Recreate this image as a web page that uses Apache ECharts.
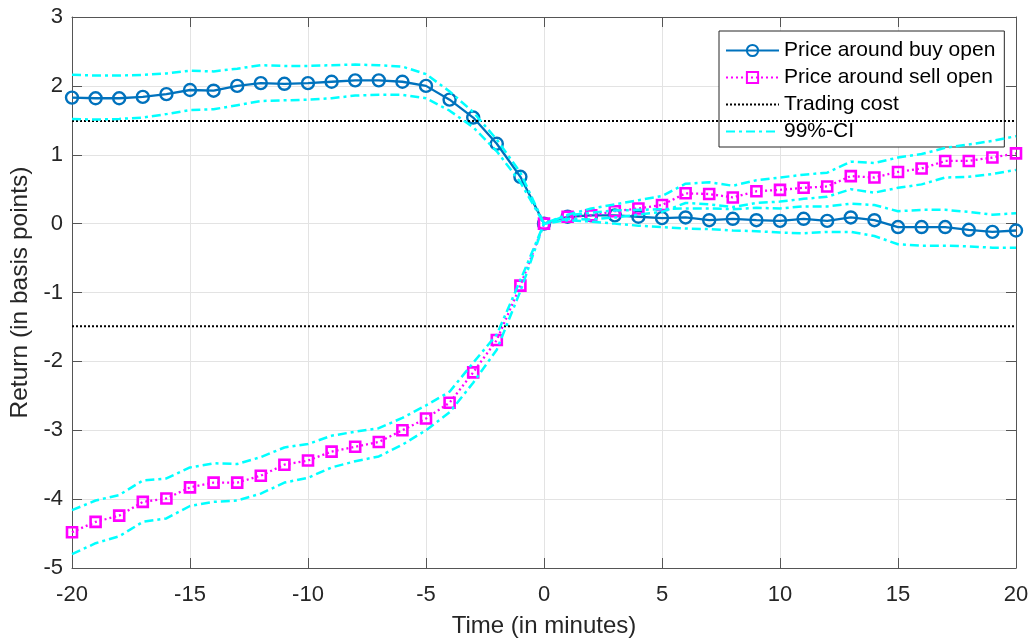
<!DOCTYPE html>
<html>
<head>
<meta charset="utf-8">
<script src="https://cdn.jsdelivr.net/npm/echarts@6/dist/echarts.min.js"></script>
<style>
html,body{margin:0;padding:0;background:#fff;}
#chart{width:1031px;height:639px;}
</style>
</head>
<body>
<div id="chart"></div>
<script>
const minutes = [-20,-19,-18,-17,-16,-15,-14,-13,-12,-11,-10,-9,-8,-7,-6,-5,-4,-3,-2,-1,0,1,2,3,4,5,6,7,8,9,10,11,12,13,14,15,16,17,18,19,20];

const buyOpen = [1.83,1.82,1.82,1.84,1.88,1.94,1.93,2.00,2.04,2.03,2.04,2.06,2.08,2.08,2.06,2.00,1.80,1.54,1.16,0.68,0,
  0.10,0.12,0.12,0.10,0.08,0.09,0.05,0.07,0.05,0.04,0.07,0.04,0.09,0.05,-0.05,-0.05,-0.05,-0.09,-0.12,-0.10];
const buyUpper = [2.16,2.15,2.15,2.16,2.18,2.22,2.21,2.25,2.30,2.29,2.29,2.30,2.31,2.30,2.28,2.17,1.92,1.62,1.22,0.74,0,
  0.12,0.16,0.19,0.20,0.21,0.22,0.22,0.21,0.23,0.22,0.25,0.25,0.29,0.27,0.18,0.20,0.20,0.17,0.13,0.15];
const buyLower = [1.52,1.51,1.52,1.54,1.59,1.65,1.66,1.72,1.78,1.79,1.80,1.82,1.86,1.87,1.87,1.82,1.64,1.40,1.05,0.60,0,
  0.05,0.03,0.00,-0.03,-0.05,-0.07,-0.08,-0.10,-0.11,-0.13,-0.14,-0.12,-0.12,-0.18,-0.30,-0.32,-0.32,-0.33,-0.35,-0.35];

const sellOpen = [-4.48,-4.33,-4.24,-4.04,-3.99,-3.83,-3.76,-3.76,-3.66,-3.50,-3.44,-3.31,-3.24,-3.17,-3.00,-2.83,-2.60,-2.16,-1.69,-0.90,0,
  0.10,0.12,0.18,0.22,0.27,0.44,0.43,0.38,0.47,0.49,0.52,0.54,0.69,0.67,0.75,0.80,0.91,0.91,0.96,1.02];
const sellUpper = [-4.16,-4.02,-3.94,-3.73,-3.70,-3.54,-3.48,-3.49,-3.39,-3.25,-3.20,-3.08,-3.02,-2.97,-2.82,-2.64,-2.44,-2.02,-1.61,-0.82,0,
  0.13,0.22,0.28,0.34,0.40,0.58,0.60,0.55,0.63,0.67,0.71,0.74,0.90,0.88,0.96,1.01,1.10,1.15,1.20,1.27];
const sellLower = [-4.80,-4.64,-4.54,-4.33,-4.28,-4.10,-4.04,-4.02,-3.92,-3.76,-3.69,-3.54,-3.45,-3.38,-3.21,-3.00,-2.74,-2.31,-1.83,-0.98,0,
  0.07,0.06,0.09,0.13,0.17,0.30,0.28,0.24,0.30,0.32,0.36,0.39,0.50,0.45,0.52,0.57,0.67,0.68,0.72,0.78];

const tradingCost = 1.49;
const costX = [-20, 20];

const xTicks = {min:-20, max:20, interval:5};
const yTicks = {min:-5, max:3, interval:1};

const pairs = arr => minutes.map((x,i)=>[x, arr[i]]);

const FONT = 'Liberation Sans, Arial, Helvetica, sans-serif';
const TXT = '#262626';
const AX = '#555555';
const CYAN = '#00FFFF';
const ciDash = [9,4,3,4];

const ciSeries = arr => ({
  name:'99%-CI', type:'line', data:pairs(arr), showSymbol:false, symbol:'none',
  lineStyle:{color:CYAN, width:2.5, type:ciDash}, itemStyle:{color:CYAN}, silent:true, z:5
});
const costSeries = v => ({
  name:'Trading cost', type:'line', data:costX.map(x=>[x,v]), showSymbol:false, symbol:'none',
  lineStyle:{color:'#000', width:2, type:[2,2]}, itemStyle:{color:'#000'}, silent:true, z:4
});

const axisCommon = {
  axisLine:{show:true, onZero:false, lineStyle:{color:AX, width:1}},
  axisTick:{show:true, inside:true, length:10, lineStyle:{color:AX, width:1}},
  splitLine:{show:false}
};

const option = {
  animation:false,
  backgroundColor:'#fff',
  textStyle:{fontFamily:FONT},
  grid:{left:72, right:15, top:17, bottom:71, containLabel:false, outerBoundsMode:'none'},
  xAxis:[
    Object.assign({}, axisCommon, {
      type:'value', position:'bottom', min:xTicks.min, max:xTicks.max, interval:xTicks.interval,
      name:'Time (in minutes)', nameLocation:'middle', nameGap:46,
      nameTextStyle:{fontFamily:FONT, fontSize:24, color:TXT},
      axisLabel:{fontFamily:FONT, fontSize:22, color:TXT, margin:16},
      splitLine:{show:true, lineStyle:{color:'#e3e3e3', width:1}}
    }),
    Object.assign({}, axisCommon, {
      type:'value', position:'top', min:xTicks.min, max:xTicks.max, interval:xTicks.interval,
      axisLabel:{show:false}
    })
  ],
  yAxis:[
    Object.assign({}, axisCommon, {
      type:'value', position:'left', min:yTicks.min, max:yTicks.max, interval:yTicks.interval,
      name:'Return (in basis points)', nameLocation:'middle', nameGap:38, nameRotate:90,
      nameTextStyle:{fontFamily:FONT, fontSize:24.5, color:TXT},
      axisLabel:{fontFamily:FONT, fontSize:22, color:TXT, margin:9},
      splitLine:{show:true, lineStyle:{color:'#e3e3e3', width:1}}
    }),
    Object.assign({}, axisCommon, {
      type:'value', position:'right', min:yTicks.min, max:yTicks.max, interval:yTicks.interval,
      axisLabel:{show:false}
    })
  ],
  legend:{
    orient:'vertical', left:719, top:31,
    padding:[6,9,2,6], itemGap:0, itemWidth:53, itemHeight:14,
    borderColor:'#262626', borderWidth:1, backgroundColor:'#fff',
    textStyle:{fontFamily:FONT, fontSize:21, color:'#000', lineHeight:27},
    data:[
      'Price around buy open',
      'Price around sell open',
      {name:'Trading cost', itemStyle:{opacity:0}},
      {name:'99%-CI', itemStyle:{opacity:0}}
    ],
    selectedMode:false
  },
  series:[
    {
      name:'Price around buy open', type:'line', data:pairs(buyOpen),
      symbol:'circle', symbolSize:12, showAllSymbol:true,
      lineStyle:{color:'#0072BD', width:2.3},
      itemStyle:{color:'rgba(255,255,255,0)', borderColor:'#0072BD', borderWidth:2.4},
      z:3
    },
    {
      name:'Price around sell open', type:'line', data:pairs(sellOpen),
      symbol:'rect', symbolSize:10, showAllSymbol:true,
      lineStyle:{color:'#FF00FF', width:2.3, type:[2,3]},
      itemStyle:{color:'rgba(255,255,255,0)', borderColor:'#FF00FF', borderWidth:2.6},
      z:3
    },
    costSeries(tradingCost),
    costSeries(-tradingCost),
    ciSeries(buyUpper),
    ciSeries(buyLower),
    ciSeries(sellUpper),
    ciSeries(sellLower)
  ]
};

const chart = echarts.init(document.getElementById('chart'), null, {renderer:'canvas'});
chart.setOption(option);
</script>
</body>
</html>
